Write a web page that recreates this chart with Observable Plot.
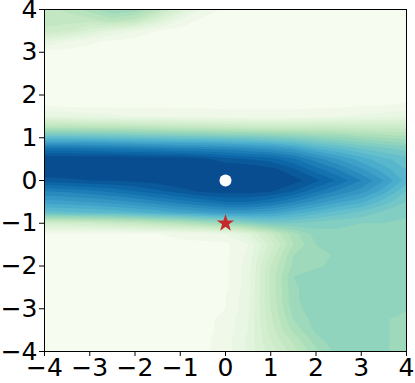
<!DOCTYPE html>
<html><head><meta charset="utf-8">
<script src="https://cdn.jsdelivr.net/npm/d3@7"></script>
<script src="https://cdn.jsdelivr.net/npm/@observablehq/plot@0.6"></script>
<style>html,body{margin:0;padding:0;background:#fff} svg{display:block}</style>
</head><body><div id="chart"></div>
<script>
// uniform grid: columns x = -4..4 step 0.5, rows y = 4..-4 step 0.25 (top row first)
const xs = [-4, -3.5, -3, -2.5, -2, -1.5, -1, -0.5, 0, 0.5, 1, 1.5, 2, 2.5, 3, 3.5, 4];
const ys = [4, 3.75, 3.5, 3.25, 3, 2.75, 2.5, 2.25, 2, 1.75, 1.5, 1.25, 1, 0.75, 0.5, 0.25, 0,
            -0.25, -0.5, -0.75, -1, -1.25, -1.5, -1.75, -2, -2.25, -2.5, -2.75, -3, -3.25, -3.5, -3.75, -4];
const z = [
  [0.30,0.33,0.38,0.44,0.42,0.32,0.18,0.07,0.03,0.02,0.02,0.02,0.02,0.02,0.02,0.02,0.02],
  [0.30,0.30,0.30,0.34,0.30,0.18,0.08,0.03,0.02,0.02,0.02,0.02,0.02,0.02,0.02,0.02,0.02],
  [0.27,0.24,0.18,0.12,0.08,0.04,0.02,0.02,0.02,0.02,0.02,0.02,0.02,0.02,0.02,0.02,0.02],
  [0.12,0.08,0.05,0.03,0.02,0.02,0.02,0.02,0.02,0.02,0.02,0.02,0.02,0.02,0.02,0.02,0.02],
  [0.03,0.02,0.02,0.02,0.02,0.02,0.02,0.02,0.02,0.02,0.02,0.02,0.02,0.02,0.02,0.02,0.02],
  [0.02,0.02,0.02,0.02,0.02,0.02,0.02,0.02,0.02,0.02,0.02,0.02,0.02,0.02,0.02,0.02,0.02],
  [0.02,0.02,0.02,0.02,0.02,0.02,0.02,0.02,0.02,0.02,0.02,0.02,0.02,0.02,0.02,0.02,0.02],
  [0.02,0.02,0.02,0.02,0.02,0.02,0.02,0.02,0.02,0.02,0.02,0.02,0.02,0.02,0.02,0.02,0.02],
  [0.02,0.02,0.02,0.02,0.02,0.02,0.02,0.02,0.02,0.02,0.02,0.02,0.02,0.02,0.02,0.02,0.02],
  [0.04,0.03,0.03,0.03,0.03,0.03,0.03,0.03,0.03,0.03,0.03,0.03,0.03,0.03,0.04,0.04,0.05],
  [0.12,0.11,0.10,0.09,0.08,0.08,0.07,0.07,0.06,0.06,0.06,0.06,0.07,0.08,0.09,0.10,0.12],
  [0.34,0.34,0.33,0.33,0.32,0.31,0.30,0.29,0.28,0.27,0.27,0.27,0.27,0.27,0.26,0.26,0.26],
  [0.60,0.60,0.60,0.59,0.58,0.57,0.56,0.56,0.55,0.54,0.52,0.50,0.47,0.45,0.42,0.40,0.38],
  [0.85,0.85,0.84,0.83,0.82,0.81,0.80,0.79,0.78,0.76,0.74,0.70,0.64,0.60,0.56,0.53,0.50],
  [1.00,1.00,1.00,1.00,1.00,0.99,0.99,0.97,0.94,0.92,0.90,0.85,0.78,0.72,0.66,0.61,0.58],
  [1.00,1.00,1.00,1.00,1.00,1.00,1.00,1.00,1.00,1.00,0.98,0.93,0.86,0.80,0.73,0.66,0.60],
  [0.94,0.95,0.96,0.96,0.97,0.98,1.00,1.00,1.00,1.00,1.00,0.98,0.93,0.87,0.80,0.72,0.62],
  [0.80,0.81,0.83,0.85,0.88,0.91,0.94,0.97,0.98,0.98,0.965,0.92,0.85,0.79,0.74,0.66,0.56],
  [0.70,0.71,0.72,0.74,0.76,0.79,0.82,0.85,0.88,0.88,0.85,0.80,0.74,0.69,0.65,0.58,0.52],
  [0.58,0.59,0.60,0.61,0.63,0.65,0.68,0.70,0.72,0.72,0.70,0.66,0.62,0.58,0.55,0.51,0.49],
  [0.22,0.23,0.24,0.26,0.28,0.31,0.34,0.38,0.42,0.48,0.52,0.52,0.50,0.49,0.48,0.48,0.47],
  [0.03,0.03,0.03,0.03,0.04,0.04,0.05,0.06,0.08,0.15,0.27,0.38,0.46,0.47,0.47,0.47,0.47],
  [0.02,0.02,0.02,0.02,0.02,0.02,0.03,0.03,0.03,0.08,0.22,0.36,0.44,0.47,0.47,0.47,0.47],
  [0.02,0.02,0.02,0.02,0.02,0.02,0.02,0.02,0.03,0.09,0.25,0.40,0.42,0.45,0.47,0.47,0.47],
  [0.02,0.02,0.02,0.02,0.02,0.02,0.02,0.02,0.03,0.10,0.28,0.41,0.43,0.46,0.47,0.47,0.47],
  [0.02,0.02,0.02,0.02,0.02,0.02,0.02,0.02,0.03,0.10,0.29,0.44,0.47,0.47,0.47,0.47,0.47],
  [0.02,0.02,0.02,0.02,0.02,0.02,0.02,0.02,0.03,0.10,0.29,0.43,0.47,0.47,0.47,0.47,0.47],
  [0.02,0.02,0.02,0.02,0.02,0.02,0.02,0.02,0.04,0.11,0.29,0.43,0.47,0.47,0.47,0.47,0.47],
  [0.02,0.02,0.02,0.02,0.02,0.02,0.02,0.03,0.04,0.11,0.28,0.42,0.47,0.47,0.47,0.47,0.45],
  [0.02,0.02,0.02,0.02,0.02,0.02,0.02,0.03,0.05,0.12,0.27,0.40,0.46,0.47,0.47,0.45,0.41],
  [0.02,0.02,0.02,0.02,0.02,0.02,0.02,0.03,0.05,0.12,0.26,0.37,0.45,0.47,0.47,0.45,0.41],
  [0.02,0.02,0.02,0.02,0.02,0.02,0.02,0.03,0.06,0.13,0.24,0.33,0.42,0.47,0.47,0.45,0.41],
  [0.02,0.02,0.02,0.02,0.02,0.02,0.02,0.03,0.06,0.13,0.22,0.30,0.39,0.46,0.47,0.45,0.41]
];
const xTicks = [-4, -3, -2, -1, 0, 1, 2, 3, 4];
const yTicks = [-4, -3, -2, -1, 0, 1, 2, 3, 4];
const levels = [0, 0.04, 0.08, 0.12, 0.16, 0.2, 0.24, 0.28, 0.32, 0.36, 0.4, 0.44, 0.48, 0.52, 0.56, 0.6, 0.64, 0.68, 0.72, 0.76, 0.8, 0.84, 0.88, 0.92, 0.96];
const optimum = [{x: 0, y: 0}];
const start = [{x: 0, y: -1}];

const fmt = d => d < 0 ? "\u2212" + Math.abs(d) : String(d);
const dx = (xs[1] - xs[0]) / 2, dy = (ys[0] - ys[1]) / 2;

const chart = Plot.plot({
  width: 415, height: 383,
  marginLeft: 44, marginRight: 9, marginTop: 9, marginBottom: 32,
  style: {fontFamily: "DejaVu Sans", color: "black", background: "white", overflow: "visible"},
  x: {domain: [-4, 4]},
  y: {domain: [-4, 4]},
  color: {type: "linear", scheme: "GnBu", domain: [0, 1]},
  marks: [
    Plot.contour(z.flat(), {
      width: xs.length, height: ys.length,
      x1: xs[0] - dx, x2: xs[xs.length - 1] + dx,
      y1: ys[0] + dy, y2: ys[ys.length - 1] - dy,
      fill: Plot.identity, thresholds: levels, stroke: "none", clip: true
    }),
    Plot.frame({stroke: "black", strokeWidth: 1}),
    Plot.axisX({ticks: xTicks, tickFormat: fmt, tickSize: 5, tickPadding: 2, fontSize: 25, label: null}),
    Plot.axisY({ticks: yTicks, tickFormat: fmt, tickSize: 5, tickPadding: 2, fontSize: 25, label: null}),
    Plot.dot(optimum, {x: "x", y: "y", r: 6, fill: "white", stroke: "none"}),
    Plot.dot(start, {x: "x", y: "y", r: 5.5, symbol: "star", fill: "#c42a2a", stroke: "none"})
  ]
});
document.getElementById("chart").appendChild(chart);
</script>
</body></html>
